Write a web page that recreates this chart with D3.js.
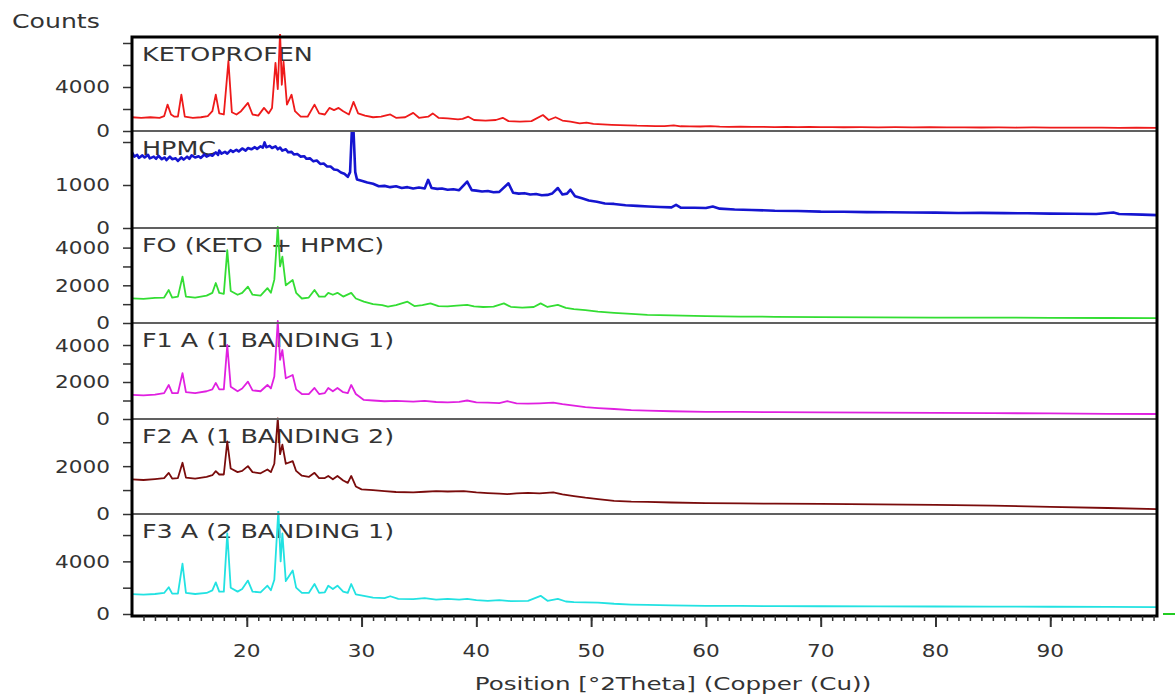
<!DOCTYPE html>
<html><head><meta charset="utf-8">
<script src="https://cdn.jsdelivr.net/npm/d3@7"></script>
<style>
body{margin:0;background:#fff}
text{font-family:"DejaVu Sans",Verdana,sans-serif;fill:#333}
</style>
</head><body>
<svg id="c" width="1175" height="695"></svg>
<script>
// ---------------- DATA ----------------
const panelNames = ["KETOPROFEN","HPMC","FO (KETO + HPMC)","F1 A (1 BANDING 1)","F2 A (1 BANDING 2)","F3 A (2 BANDING 1)"];
const panelColors = ["#ee1a1a","#1515d0","#33dd33","#e020e0","#7a0c0c","#22e2e2"];
const yMaxes = [8545, 2256, 5040, 5190, 3970, 7600];
const yTicksAll = [[0,2000,4000,6000,8000],[0,1000,2000],[0,1000,2000,3000,4000],[0,1000,2000,3000,4000],[0,1000,2000,3000],[0,2000,4000,6000]];
const yTicksLabeled = [[0,4000],[0,1000],[0,2000,4000],[0,2000,4000],[0,2000],[0,4000]];
const xDomain = [10, 99.3];
const xTicks = [20,30,40,50,60,70,80,90];

const ketoprofen = [[10,1250],[10.8,1200],[11.6,1250],[12.4,1200],[12.8,1350],[13.1,2400],[13.4,1500],[13.7,1300],[14.0,1300],[14.3,3300],[14.6,1300],[15.3,1200],[16.0,1250],[16.6,1350],[17.0,1800],[17.3,3300],[17.6,1600],[18.0,1500],[18.4,6350],[18.7,1700],[19.1,1500],[19.5,1800],[20.1,2550],[20.5,1500],[21.0,1400],[21.5,2100],[21.9,1600],[22.2,2100],[22.5,6200],[22.7,3800],[22.9,9000],[23.05,4200],[23.2,6300],[23.5,2400],[23.9,3300],[24.2,1800],[24.7,1300],[25.3,1300],[25.9,2400],[26.3,1600],[26.8,1500],[27.2,2100],[27.6,1900],[28.0,2100],[28.4,1800],[28.9,1500],[29.3,2650],[29.7,1600],[30.3,1400],[31.0,1250],[31.7,1300],[32.5,1500],[33.0,1200],[33.8,1250],[34.5,1650],[35.0,1200],[35.8,1300],[36.2,1600],[36.7,1200],[37.5,1150],[38.4,1050],[38.8,1100],[39.3,1300],[39.8,1000],[40.8,950],[41.7,1000],[42.3,1200],[42.8,900],[43.8,850],[44.8,900],[45.8,1450],[46.3,1000],[46.9,1250],[47.5,950],[48.2,850],[49.0,700],[49.6,760],[50.2,640],[51,600],[51.8,560],[52.5,540],[53.2,520],[54,480],[54.8,470],[55.6,450],[56.4,440],[57.2,520],[57.8,430],[58.6,420],[59.5,410],[60.4,440],[61.2,390],[62,380],[63,390],[64,370],[65,380],[66,360],[67,370],[68,350],[69,365],[70,350],[71,355],[72,340],[73.5,350],[75,335],[76.5,345],[78,330],[79.5,340],[81,325],[82.5,335],[84,320],[85.5,330],[87,315],[88.5,325],[90,305],[91.5,315],[93,300],[94.5,305],[96,290],[97.5,295],[99.3,280]];

const hpmc = [[10,1760],[10.2,1660],[10.45,1700],[10.6,1630],[10.9,1690],[11.1,1640],[11.4,1700],[11.55,1620],[11.9,1660],[12.1,1610],[12.3,1680],[12.6,1600],[12.85,1640],[13.0,1580],[13.3,1660],[13.5,1600],[13.8,1620],[14.0,1560],[14.3,1640],[14.5,1590],[14.8,1660],[15.0,1610],[15.2,1690],[15.5,1640],[15.8,1670],[16.0,1630],[16.3,1710],[16.5,1660],[16.8,1700],[17.0,1680],[17.3,1760],[17.5,1700],[17.6,1800],[17.8,1730],[18.1,1770],[18.3,1730],[18.6,1810],[18.8,1770],[19.1,1820],[19.3,1780],[19.6,1850],[19.9,1800],[20.1,1860],[20.4,1830],[20.7,1880],[20.9,1840],[21.2,1900],[21.4,1870],[21.55,1990],[21.7,1880],[22.0,1910],[22.2,1860],[22.5,1900],[22.7,1830],[22.9,1870],[23.1,1800],[23.4,1830],[23.6,1760],[23.9,1770],[24.1,1710],[24.4,1720],[24.7,1660],[25.0,1670],[25.2,1610],[25.5,1620],[25.8,1550],[26.1,1570],[26.4,1490],[26.7,1500],[27.0,1430],[27.3,1430],[27.6,1360],[27.9,1350],[28.2,1290],[28.5,1260],[28.8,1190],[29.0,1300],[29.15,2250],[29.3,2250],[29.45,1300],[29.6,1130],[30,1100],[30.5,1060],[31,1030],[31.5,970],[32,980],[32.5,950],[33,970],[33.5,930],[34,950],[34.5,920],[35,940],[35.5,920],[35.8,1120],[36.1,930],[36.6,910],[37,920],[37.5,890],[38,900],[38.5,880],[39.2,1080],[39.6,880],[40,870],[40.5,850],[41,860],[41.5,830],[42,840],[42.8,1040],[43.2,820],[43.7,800],[44.2,810],[44.7,780],[45.2,790],[45.7,760],[46.2,770],[46.6,800],[47.1,930],[47.5,780],[47.9,800],[48.2,890],[48.6,740],[49.2,690],[49.8,640],[50.5,610],[51.2,570],[52,560],[53,530],[54,515],[55,500],[56,490],[57,480],[57.4,540],[57.8,475],[59,470],[60,465],[60.6,500],[61.2,450],[62.5,430],[64,420],[66,400],[68,395],[70,380],[72,378],[74,370],[76,368],[78,360],[80,358],[82,350],[84,352],[86,345],[88,342],[90,335],[92,332],[94,325],[95.5,360],[96,325],[98,312],[99.3,300]];

const fo = [[10,1310],[11,1280],[12,1330],[12.8,1350],[13.2,1750],[13.5,1350],[14.0,1400],[14.4,2460],[14.7,1400],[15.5,1350],[16.5,1450],[17.0,1600],[17.3,2120],[17.6,1600],[18.0,1550],[18.3,3870],[18.6,1700],[19.2,1500],[19.6,1600],[20.1,1930],[20.5,1500],[21.2,1450],[21.8,1850],[22.1,1600],[22.4,2300],[22.7,5100],[22.9,3000],[23.1,3520],[23.4,2000],[24.0,2280],[24.3,1600],[24.8,1300],[25.4,1350],[25.9,1750],[26.3,1400],[26.8,1400],[27.1,1600],[27.5,1500],[27.9,1600],[28.4,1400],[29.1,1600],[29.5,1300],[30.2,1130],[31.0,1000],[31.8,950],[32.3,870],[33.0,950],[34.0,1130],[34.6,900],[35.3,950],[36.0,1040],[36.7,900],[37.5,880],[38.3,920],[39.2,960],[39.8,880],[40.6,850],[41.5,870],[42.4,1040],[43.0,860],[44.0,820],[45.0,850],[45.6,1040],[46.2,850],[47.1,960],[47.8,800],[48.5,740],[49.5,680],[50.6,600],[52,540],[53.5,480],[54.9,430],[57,400],[60,360],[63,340],[66,330],[70,310],[75,300],[80,290],[85,285],[90,275],[95,265],[99.3,260]];

const f1 = [[10,1300],[11,1280],[12,1320],[12.8,1400],[13.2,1840],[13.5,1400],[14.0,1400],[14.4,2480],[14.7,1450],[15.5,1400],[16.5,1500],[17.0,1600],[17.3,1950],[17.6,1600],[18.0,1600],[18.3,4000],[18.6,1750],[19.2,1500],[19.6,1650],[20.1,2020],[20.5,1550],[21.2,1500],[21.8,1840],[22.1,1650],[22.4,2300],[22.7,5300],[22.9,3200],[23.1,3730],[23.4,2200],[24.0,2380],[24.3,1600],[24.8,1350],[25.4,1350],[25.9,1680],[26.3,1350],[26.8,1400],[27.1,1680],[27.5,1500],[27.9,1680],[28.4,1450],[28.8,1400],[29.1,1840],[29.5,1350],[30.2,1030],[31,1000],[32,960],[33,980],[34.5,940],[35.5,980],[36.5,920],[37.5,900],[38.5,930],[39.2,1000],[40,900],[41,880],[42,860],[42.7,960],[43.5,850],[44.5,830],[45.5,850],[46.7,880],[47.5,800],[48.5,720],[49.5,640],[50.6,590],[52,540],[53.5,480],[54.9,450],[57,420],[60,390],[63,380],[66,370],[70,360],[75,340],[80,330],[85,320],[90,300],[95,280],[99.3,270]];

const f2 = [[10,1450],[11,1420],[12,1460],[12.8,1500],[13.2,1720],[13.5,1480],[14.0,1500],[14.4,2140],[14.7,1520],[15.5,1480],[16.5,1550],[17.0,1620],[17.3,1790],[17.6,1650],[18.0,1650],[18.3,3030],[18.6,1900],[19.2,1750],[19.6,1800],[20.1,2000],[20.5,1750],[21.2,1700],[21.8,1860],[22.1,1750],[22.4,2100],[22.7,4000],[22.9,2500],[23.1,2900],[23.4,2100],[24.0,2210],[24.3,1800],[24.8,1600],[25.4,1550],[25.9,1720],[26.3,1500],[26.8,1500],[27.1,1590],[27.5,1450],[27.9,1590],[28.4,1400],[28.8,1300],[29.1,1590],[29.5,1150],[30.0,1030],[31,1000],[32,960],[33,920],[34.5,900],[35.5,930],[36.5,960],[37.5,940],[38.9,960],[40,900],[41,870],[42,850],[42.7,830],[43.5,860],[44.5,880],[45.5,860],[46.7,900],[47.5,820],[48.5,750],[49.5,680],[50.6,620],[52,550],[53.5,520],[54.9,510],[57,480],[60,455],[63,440],[66,430],[70,420],[75,400],[80,380],[85,350],[90,300],[95,250],[99.3,200]];

const f3 = [[10,1510],[11,1480],[12,1520],[12.8,1600],[13.2,2030],[13.5,1550],[14.0,1550],[14.4,3820],[14.7,1600],[15.5,1520],[16.5,1600],[17.0,1800],[17.3,2400],[17.6,1700],[18.0,1700],[18.3,6130],[18.6,2000],[19.2,1700],[19.6,1900],[20.1,2540],[20.5,1700],[21.2,1650],[21.8,2150],[22.1,1800],[22.4,2600],[22.75,7900],[22.95,4000],[23.1,6130],[23.4,2500],[24.0,3310],[24.3,2000],[24.8,1600],[25.4,1600],[25.9,2280],[26.3,1600],[26.8,1650],[27.1,2150],[27.5,1900],[27.9,2150],[28.4,1700],[28.8,1600],[29.1,2280],[29.5,1500],[30.2,1380],[31,1250],[32,1200],[32.5,1350],[33.2,1150],[34.5,1130],[35.5,1200],[36.5,1100],[37.5,1150],[38.5,1100],[39.2,1150],[40,1050],[41,1000],[42,1050],[43,980],[44.5,1000],[45.6,1380],[46.2,1000],[47.1,1150],[47.8,950],[48.5,900],[49.5,880],[50.6,870],[52,780],[53.5,720],[54.9,690],[57,650],[60,620],[63,610],[66,600],[70,590],[75,580],[80,570],[85,560],[90,550],[95,540],[99.3,530]];

const seriesList = [ketoprofen, hpmc, fo, f1, f2, f3];

// ---------------- LAYOUT ----------------
const plotL = 132, plotR = 1157;
const bounds = [37,131,228,323,419,514,614];
const TX = 1.2;

const svg = d3.select("#c");
const x = d3.scaleLinear().domain(xDomain).range([plotL, plotR]);
const defs = svg.append("defs");

// panel labels (drawn under the traces)
panelNames.forEach((name,i)=>{
  svg.append("text")
    .attr("transform",`translate(${plotL+10},${bounds[i]+24}) scale(1.27,1)`)
    .attr("font-size",20)
    .text(name);
});

seriesList.forEach((data,i)=>{
  const top = bounds[i], bot = bounds[i+1];
  const y = d3.scaleLinear().domain([0,yMaxes[i]]).range([bot, top]);
  defs.append("clipPath").attr("id","clip"+i)
    .append("rect").attr("x",plotL).attr("y",top-3).attr("width",plotR-plotL).attr("height",bot-top+3);
  svg.append("path").datum(data)
    .attr("clip-path",`url(#clip${i})`)
    .attr("fill","none")
    .attr("stroke",panelColors[i])
    .attr("stroke-width", i===1 ? 2.6 : 1.8)
    .attr("stroke-linejoin","round")
    .attr("d", d3.line().x(d=>x(d[0])).y(d=>y(d[1])));

  const ax = d3.axisLeft(y).tickValues(yTicksAll[i]).tickSize(9).tickFormat("");
  const g = svg.append("g").attr("transform",`translate(${plotL},0)`).call(ax);
  g.select(".domain").remove();
  g.selectAll(".tick line").attr("stroke","#333").attr("stroke-width",1.5);
  yTicksLabeled[i].forEach(v=>{
    svg.append("text")
      .attr("transform",`translate(110,${y(v)}) scale(${TX},1)`)
      .attr("text-anchor","end").attr("dy","0.36em")
      .attr("font-size",18).text(v);
  });
});

// separators
for (let i=1;i<6;i++){
  svg.append("line").attr("x1",plotL).attr("x2",plotR).attr("y1",bounds[i]).attr("y2",bounds[i])
    .attr("stroke","#606060").attr("stroke-width",2);
}
// frame
svg.append("rect").attr("x",plotL).attr("y",bounds[0]).attr("width",plotR-plotL).attr("height",bounds[6]+2-bounds[0])
  .attr("fill","none").attr("stroke","#000").attr("stroke-width",3);

// x axis
const xb = bounds[6]+2;
const minorG = svg.append("g").attr("transform",`translate(0,${xb})`)
  .call(d3.axisBottom(x).tickValues(d3.range(11,100,1)).tickSize(5).tickFormat(""));
minorG.select(".domain").remove();
minorG.selectAll("line").attr("stroke","#333").attr("stroke-width",1.5);
const majorG = svg.append("g").attr("transform",`translate(0,${xb})`)
  .call(d3.axisBottom(x).tickValues(xTicks).tickSize(11).tickFormat(""));
majorG.select(".domain").remove();
majorG.selectAll("line").attr("stroke","#333").attr("stroke-width",2);
xTicks.forEach(v=>{
  svg.append("text").attr("transform",`translate(${x(v)},657) scale(${TX},1)`)
    .attr("text-anchor","middle").attr("font-size",18).text(v);
});

// titles
svg.append("text").attr("transform",`translate(12,28) scale(1.29,1)`).attr("font-size",19.5).text("Counts");
svg.append("text").attr("transform",`translate(673,690) scale(1.33,1)`)
  .attr("text-anchor","middle").attr("font-size",18.5).text("Position [°2Theta] (Copper (Cu))");

// small green marker at right
svg.append("line").attr("x1",plotR+6).attr("x2",1175).attr("y1",xb-2).attr("y2",xb-2)
  .attr("stroke","#22cc22").attr("stroke-width",2);
</script>
</body></html>
